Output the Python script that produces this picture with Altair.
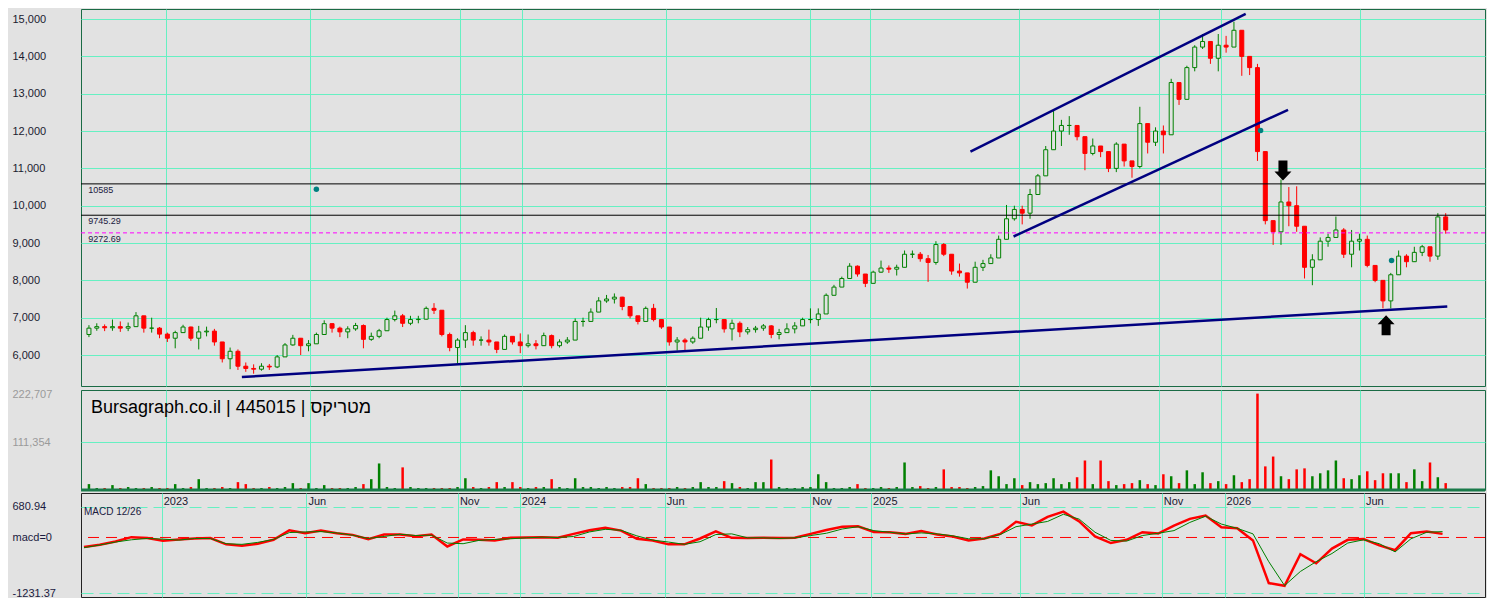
import altair as alt
import pandas as pd
import numpy as np

# ---------------- data (one candle per ~5.5 trading days) ----------------
first_open = 6550
close = [
    6720, 6760, 6730, 6760, 6720, 6760, 7050, 6720, 6720, 6560,
    6450, 6600, 6750, 6450, 6620, 6640, 6350, 5900, 6100, 5700,
    5640, 5620, 5700, 5680, 5950, 6270, 6450, 6250, 6300, 6550,
    6840, 6720, 6620, 6700, 6790, 6420, 6500, 6650, 6950, 7050,
    6850, 6950, 6960, 7250, 7200, 6550, 6200, 6400, 6600, 6400,
    6400, 6350, 6150, 6500, 6350, 6250, 6300, 6250, 6520, 6250,
    6350, 6400, 6900, 6900, 7150, 7450, 7500, 7550, 7300, 7050,
    6900, 7250, 6950, 6750, 6350, 6400, 6350, 6450, 6750, 6950,
    6950, 6700, 6850, 6620, 6680, 6720, 6780, 6550, 6600, 6700,
    6780, 6950, 6950, 7100, 7600, 7820, 8050, 8380, 8170, 7920,
    8220, 8330, 8300, 8350, 8700, 8700, 8580, 8480, 8960, 8700,
    8250, 8200, 7950, 8350, 8450, 8600, 9100, 9650, 9900, 9800,
    10300, 10800, 11500, 12000, 12150, 12150, 11850, 11400, 11600, 11450,
    11000, 11650, 11200, 11050, 12200, 11700, 12000, 11900, 13300, 12850,
    13700, 14250, 14400, 13950, 14300, 14250, 14700, 14000, 13700, 11450,
    9600, 9300, 10100, 10000, 9450, 8350, 8550, 9050, 9150, 9350,
    8700, 9050, 9100, 8400, 8000, 7450, 8150, 8650, 8500, 8750,
    8900, 8650, 9700, 9350,
]
high = [
    6800, 6850, 6820, 6950, 6900, 6870, 7150, 7000, 7000, 6750,
    6600, 6650, 6810, 6760, 6780, 6760, 6700, 6350, 6200, 6150,
    5800, 5750, 5780, 5760, 6000, 6320, 6540, 6450, 6400, 6600,
    6930, 6850, 6760, 6770, 6860, 6820, 6600, 6700, 7000, 7190,
    7100, 7050, 7050, 7300, 7390, 7150, 6600, 6450, 6800, 6650,
    6500, 6680, 6350, 6550, 6500, 6580, 6550, 6400, 6600, 6550,
    6420, 6480, 6980, 7000, 7250, 7550, 7610, 7650, 7560, 7250,
    7000, 7300, 7370, 6950, 6650, 6480, 6450, 6500, 7000, 7000,
    7260, 6950, 6950, 6900, 6750, 6780, 6830, 6800, 6700, 6850,
    6880, 7000, 7250, 7250, 7650, 7880, 8100, 8460, 8400, 8150,
    8260, 8530, 8400, 8420, 8800, 8800, 8760, 8680, 9050, 9000,
    8600, 8450, 8100, 8500, 8550, 8700, 9200, 10020, 10000, 10000,
    10450, 10850, 11600, 12560, 12300, 12400, 12100, 11850, 11800, 11600,
    11300, 11700, 11650, 11200, 12650, 12000, 12100, 12150, 13400, 13200,
    13750, 14300, 14600, 14400, 14600, 14550, 14930, 14300, 13900, 13800,
    11200, 9500, 10700, 10500, 10520, 9450, 8700, 9150, 9250, 9710,
    9400, 9350, 9250, 9200, 8300, 7850, 8200, 8800, 8700, 8900,
    8950, 8900, 9800, 9800,
]
low = [
    6480, 6650, 6640, 6650, 6620, 6640, 6750, 6600, 6600, 6450,
    6350, 6180, 6600, 6380, 6150, 6500, 6250, 5800, 5620, 5600,
    5550, 5500, 5580, 5600, 5650, 5950, 6250, 6000, 6100, 6400,
    6650, 6600, 6480, 6450, 6650, 6180, 6380, 6450, 6700, 6900,
    6750, 6800, 6850, 6950, 7100, 6500, 6100, 5770, 6190, 6250,
    6250, 6250, 6050, 6350, 6280, 6050, 6200, 6150, 6300, 6180,
    6200, 6300, 6500, 6760, 7000, 7300, 7400, 7380, 7200, 6980,
    6820, 6900, 6900, 6700, 6250, 6120, 6100, 6300, 6450, 6650,
    6850, 6600, 6390, 6480, 6550, 6600, 6650, 6450, 6420, 6600,
    6580, 6800, 6850, 6780, 7350, 7650, 7850, 8150, 8100, 7820,
    8050, 8200, 8200, 8130, 8380, 8600, 8500, 7960, 8420, 8650,
    8150, 8100, 7780, 8200, 8250, 8450, 8750, 9200, 9600, 9500,
    9650, 10550, 10850, 11800, 11600, 11900, 11750, 10950, 11350, 11300,
    10900, 10900, 11050, 10750, 11000, 11400, 11600, 11400, 12100, 12700,
    12900, 13600, 14200, 13800, 13600, 14100, 14400, 13480, 13500, 11200,
    9500, 8950, 8950, 9450, 9300, 8050, 7870, 8800, 8900, 9250,
    8600, 8350, 8800, 8350, 7950, 7250, 7250, 8500, 8350, 8600,
    8650, 8500, 8550, 9250,
]
volume_k = [
    13.7, 4.6, 4.6, 11.4, 4.6, 6.9, 4.6, 4.6, 6.9, 4.6,
    4.6, 13.7, 4.6, 6.9, 25.2, 4.6, 4.6, 6.9, 4.6, 18.3,
    13.7, 4.6, 4.6, 6.9, 4.6, 6.9, 16.0, 4.6, 16.0, 4.6,
    11.4, 4.6, 4.6, 4.6, 6.9, 13.7, 25.2, 61.7, 6.9, 4.6,
    52.6, 6.9, 4.6, 4.6, 4.6, 4.6, 4.6, 6.9, 27.4, 6.9,
    4.6, 6.9, 18.3, 6.9, 18.3, 6.9, 4.6, 6.9, 6.9, 25.2,
    6.9, 4.6, 27.4, 6.9, 6.9, 4.6, 6.9, 4.6, 6.9, 6.9,
    27.4, 13.7, 4.6, 4.6, 4.6, 6.9, 4.6, 6.9, 18.3, 6.9,
    6.9, 20.6, 16.0, 6.9, 4.6, 18.3, 18.3, 70.9, 6.9, 4.6,
    4.6, 6.9, 6.9, 36.6, 18.3, 4.6, 4.6, 6.9, 13.7, 4.6,
    4.6, 6.9, 4.6, 6.9, 64.0, 6.9, 9.1, 4.6, 6.9, 48.0,
    6.9, 6.9, 4.6, 6.9, 9.1, 45.7, 32.0, 13.7, 27.4, 11.4,
    18.3, 13.7, 16.0, 27.4, 13.7, 18.3, 29.7, 68.6, 13.7, 68.6,
    20.6, 11.4, 13.7, 16.0, 22.9, 13.7, 11.4, 36.6, 32.0, 16.0,
    45.7, 13.7, 41.2, 16.0, 20.6, 13.7, 34.3, 18.3, 25.2, 224.1,
    54.9, 77.8, 32.0, 25.2, 48.0, 50.3, 32.0, 38.9, 45.7, 68.6,
    27.4, 25.2, 34.3, 43.5, 22.9, 38.9, 38.9, 38.9, 18.3, 48.0,
    20.6, 64.0, 29.7, 16.0,
]
# MACD 12/26 and its signal line, sampled every second candle
macd = [
    -210, -159, -87, 7, -14, -72, -43, -22, -14, -152,
    -181, -138, -51, 159, 94, 152, 94, 58, -36, 65,
    65, 29, 65, -200, -43, -51, -65, -7, 0, 7,
    -7, 80, 159, 217, 152, -29, -65, -152, -152, -22,
    138, -7, -14, -7, -14, -7, 80, 167, 239, 246,
    123, 116, 80, 145, 65, 22, -65, -22, 80, 348,
    268, 456, 572, 355, 22, -123, -51, 116, 87, 261,
    413, 485, 224, 203, -65, -1010, -1070, -369, -572, -246,
    -51, -36, -174, -282, 94, 130, 80,
]
signal = [
    -225, -167, -101, -51, -22, -36, -58, -22, -22, -138,
    -152, -109, -43, 109, 123, 130, 101, 51, -22, 22,
    72, 43, 51, -123, -138, -65, -43, -29, -7, 7,
    0, 22, 123, 181, 159, 36, -58, -101, -152, -94,
    65, 80, -7, -7, -22, -7, 43, 94, 188, 239,
    152, 116, 80, 101, 80, 36, -29, -29, 65, 239,
    297, 355, 514, 406, 116, -65, -80, 43, 94, 152,
    333, 471, 297, 203, 80, -536, -1065, -753, -536, -355,
    -123, -51, -138, -318, -29, 116, 130,
]
macd_bar = list(range(0, 173, 2))

tick_pos = [9.84, 28.16, 47.34, 55.16, 73.54, 91.95, 99.65, 118.55, 136.45, 144.41, 162.05]
tick_text = ["2023", "Jun", "Nov", "2024", "Jun", "Nov", "2025", "Jun", "Nov", "2026", "Jun"]

price_ticks = [6000, 7000, 8000, 9000, 10000, 11000, 12000, 13000, 14000, 15000]
vol_ticks = [111354, 222707]
macd_ticks = [680.94, 0, -1231.37]
macd_tick_text = ["680.94", "macd=0", "-1231.37"]

levels = [10585, 9745.29, 9272.69]
level_text = ["10585", "9745.29", "9272.69"]
level_style = ["solid", "solid", "dash"]

trend_x1 = [19.5, 112.4, 117.9]
trend_y1 = [5410, 11450, 9175]
trend_x2 = [173.2, 147.5, 152.9]
trend_y2 = [7300, 15140, 12570]

arrow_x = [152.25, 165.4]
arrow_y = [10940, 6795]
arrow_dir = ["down", "up"]

marker_x = [29.0, 149.4, 166.1]
marker_y = [10440, 12015, 8534]

title_text = "Bursagraph.co.il | 445015 | מטריקס"
macd_title = "MACD 12/26"

# ---------------- build tables ----------------
n = len(close)
assert len(high) == n and len(low) == n and len(volume_k) == n
assert len(macd) == len(signal) == len(macd_bar)

opens = [first_open] + close[:-1]
bars = pd.DataFrame({
    "i": list(range(n)), "open": opens, "close": close,
    "high": high, "low": low, "vol": [v * 1000 for v in volume_k],
})
bars["hi"] = bars[["high", "open", "close"]].max(axis=1)
bars["lo"] = bars[["low", "open", "close"]].min(axis=1)
bars["dir"] = np.where(bars["close"] >= bars["open"], "up", "down")

md = pd.DataFrame({"i": macd_bar, "macd": macd, "signal": signal})
lv = pd.DataFrame({"v": levels, "t": level_text, "s": level_style, "x": [-0.1] * len(levels)})
tr = pd.DataFrame({"x1": trend_x1, "y1": trend_y1, "x2": trend_x2, "y2": trend_y2})
ar = pd.DataFrame({"x": arrow_x, "y": arrow_y, "d": arrow_dir})
mk = pd.DataFrame({"x": marker_x, "y": marker_y})
tk = pd.DataFrame({"x": tick_pos, "t": tick_text, "y": [790] * len(tick_pos)})
ttl = pd.DataFrame({"x": [0.25], "y": [191000], "t": [title_text]})
mttl = pd.DataFrame({"x": [0.0], "y": [560], "t": [macd_title]})
zero = pd.DataFrame({"v": [0]})

# ---------------- styling ----------------
BG = "#e2e2e2"
GRID = "#66f0c2"
FONT = "Liberation Sans"
W = 1404
HP, HV, HM = 377, 100, 104

XS = alt.Scale(domain=[-0.375, 177.375], nice=False, zero=False)
YP = alt.Scale(domain=[5170, 15270], nice=False, zero=False)
YV = alt.Scale(domain=[0, 232500], nice=False, zero=False)
YM = alt.Scale(domain=[-1318, 985], nice=False, zero=False)
STROKE = alt.Scale(domain=["up", "down"], range=["#008000", "#ff0000"])
FILL = alt.Scale(domain=["up", "down"], range=[BG, "#ff0000"])

XAX = alt.Axis(values=tick_pos, grid=True, gridColor=GRID, gridWidth=1, labels=False,
               ticks=False, domain=False, title=None, minExtent=0, maxExtent=0)

def yaxis(values, **kw):
    base = dict(values=values, grid=True, gridColor=GRID, ticks=False, tickSize=0, domain=False,
                labelAlign="left", labelPadding=69, labelFont=FONT, labelFontSize=11,
                labelBaseline="middle", minExtent=72, maxExtent=72, title=None)
    base.update(kw)
    return alt.Axis(**base)

YAXP = yaxis(price_ticks, labelExpr="format(datum.value, ',')", labelColor="#1a1a30")
YAXV = yaxis(vol_ticks, labelExpr="format(datum.value, ',')", labelColor="#9a9a9a",
             gridOpacity={"condition": {"test": "datum.value > 200000", "value": 0}, "value": 1})
mexpr = "'%s'" % macd_tick_text[-1]
for v, t in reversed(list(zip(macd_ticks[:-1], macd_tick_text[:-1]))):
    mexpr = "abs(datum.value - (%s)) < 0.01 ? '%s' : %s" % (v, t, mexpr)
YAXM = yaxis(macd_ticks, labelExpr=mexpr, labelColor="#1a1a40", gridDash=[12, 6],
             gridOpacity={"condition": {"test": "abs(datum.value) < 0.01", "value": 0}, "value": 1})

def X(field):
    return alt.X(field, scale=XS, axis=XAX)

# ---------------- price panel ----------------
wick = alt.Chart(bars).mark_rule(strokeWidth=1).encode(
    x=X("i:Q"), y=alt.Y("lo:Q", scale=YP, axis=YAXP), y2="hi:Q",
    color=alt.Color("dir:N", scale=STROKE, legend=None))
body = alt.Chart(bars).mark_bar(size=4, strokeWidth=1).encode(
    x=X("i:Q"), y=alt.Y("open:Q", scale=YP, axis=YAXP), y2="close:Q",
    fill=alt.Fill("dir:N", scale=FILL, legend=None),
    stroke=alt.Stroke("dir:N", scale=STROKE, legend=None))
lv_solid = alt.Chart(lv).transform_filter("datum.s == 'solid'").mark_rule(
    color="black", strokeWidth=1).encode(y=alt.Y("v:Q", scale=YP, axis=YAXP))
lv_dash = alt.Chart(lv).transform_filter("datum.s == 'dash'").mark_rule(
    color="#ff00ff", strokeWidth=1, strokeDash=[4, 3]).encode(y=alt.Y("v:Q", scale=YP, axis=YAXP))
lv_text = alt.Chart(lv).mark_text(align="left", baseline="top", dy=2, fontSize=9, font=FONT,
                                  color="#202040").encode(
    x=X("x:Q"), y=alt.Y("v:Q", scale=YP, axis=YAXP), text="t:N")
trend = alt.Chart(tr).mark_rule(color="#000080", strokeWidth=2.5).encode(
    x=X("x1:Q"), x2="x2:Q", y=alt.Y("y1:Q", scale=YP, axis=YAXP), y2="y2:Q")
DOWN = "M-0.45,-1L0.45,-1L0.45,0.1L0.85,0.1L0,1L-0.85,0.1L-0.45,0.1Z"
UP = "M-0.45,1L0.45,1L0.45,-0.1L0.85,-0.1L0,-1L-0.85,-0.1L-0.45,-0.1Z"
arrows = alt.Chart(ar).mark_point(filled=True, size=400, color="black", opacity=1).encode(
    x=X("x:Q"), y=alt.Y("y:Q", scale=YP, axis=YAXP),
    shape=alt.Shape("d:N", scale=alt.Scale(domain=["down", "up"], range=[DOWN, UP]), legend=None))
markers = alt.Chart(mk).mark_point(filled=True, size=30, color="#008080", opacity=1).encode(
    x=X("x:Q"), y=alt.Y("y:Q", scale=YP, axis=YAXP))

price = alt.layer(wick, body, lv_solid, lv_dash, lv_text, trend, arrows, markers).properties(
    width=W, height=HP, view=alt.ViewBackground(stroke="#1a6b45", strokeWidth=1, fill=BG))

# ---------------- volume panel ----------------
vbars = alt.Chart(bars).mark_bar(size=2.5).encode(
    x=X("i:Q"), y=alt.Y("vol:Q", scale=YV, axis=YAXV),
    color=alt.Color("dir:N", scale=STROKE, legend=None))
vbase = alt.Chart(zero).mark_rule(color="#1a7a4a", strokeWidth=3).encode(
    y=alt.Y("v:Q", scale=YV, axis=YAXV))
vtitle = alt.Chart(ttl).mark_text(align="left", baseline="middle", fontSize=18, font=FONT,
                                  color="black").encode(
    x=X("x:Q"), y=alt.Y("y:Q", scale=YV, axis=YAXV), text="t:N")
volume = alt.layer(vbars, vbase, vtitle).properties(
    width=W, height=HV, view=alt.ViewBackground(stroke="#1a6b45", strokeWidth=1, fill=BG))

# ---------------- MACD panel ----------------
zrule = alt.Chart(zero).mark_rule(color="#ff0000", strokeWidth=1, strokeDash=[11, 7]).encode(
    y=alt.Y("v:Q", scale=YM, axis=YAXM))
mline = alt.Chart(md).mark_line(color="#ff0000", strokeWidth=2.5).encode(
    x=X("i:Q"), y=alt.Y("macd:Q", scale=YM, axis=YAXM))
sline = alt.Chart(md).mark_line(color="#008000", strokeWidth=1).encode(
    x=X("i:Q"), y=alt.Y("signal:Q", scale=YM, axis=YAXM))
tlabels = alt.Chart(tk).mark_text(align="left", baseline="middle", dx=2, fontSize=11, font=FONT,
                                  color="#1a1a30").encode(
    x=X("x:Q"), y=alt.Y("y:Q", scale=YM, axis=YAXM), text="t:N")
mtitle = alt.Chart(mttl).mark_text(align="left", baseline="middle", fontSize=10, font=FONT,
                                   color="#1a1a40").encode(
    x=X("x:Q"), y=alt.Y("y:Q", scale=YM, axis=YAXM), text="t:N")
macdp = alt.layer(zrule, mline, sline, tlabels, mtitle).properties(
    width=W, height=HM, view=alt.ViewBackground(stroke="#222222", strokeWidth=1, fill=BG))

chart = alt.vconcat(price, volume, macdp, spacing=0).properties(
    padding=0, background=BG
).configure_view(fill=BG)

chart.save("out.html", embed_options={"renderer": "svg", "actions": False})
